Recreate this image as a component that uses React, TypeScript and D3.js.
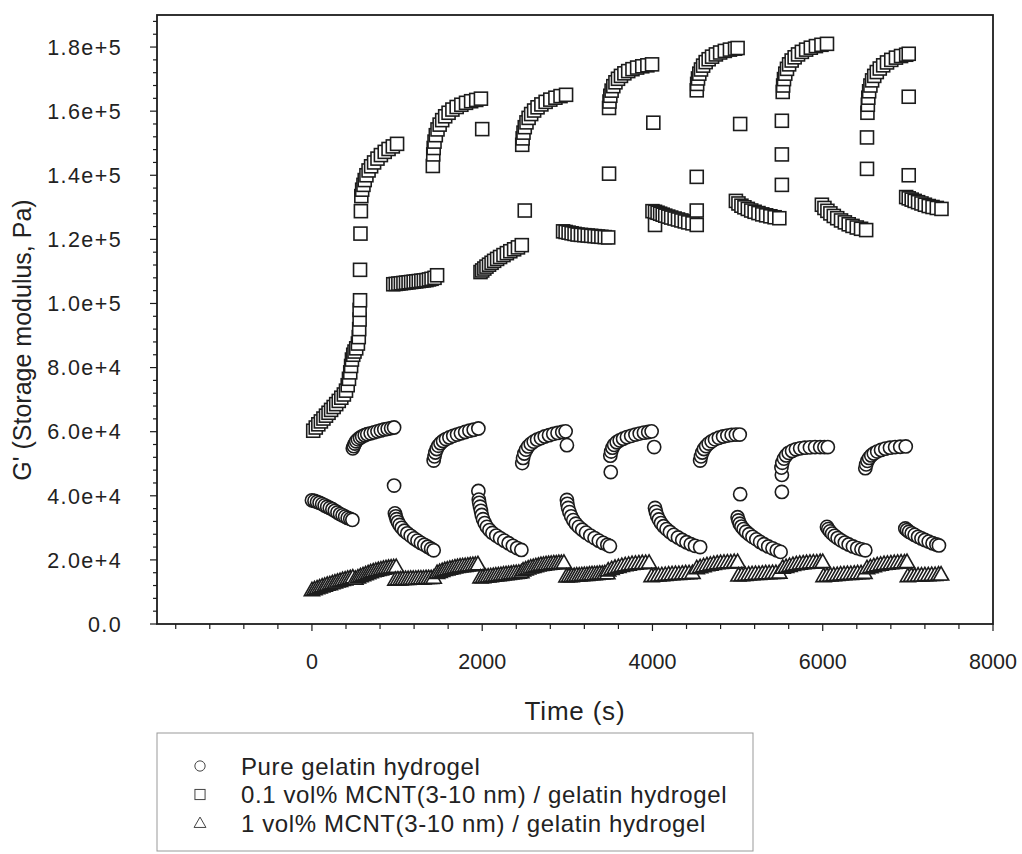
import React from 'react';
import * as d3 from 'd3';

const W = 1022;
const H = 854;
const frame = { left: 157, right: 993, top: 15, bottom: 624 };
const FONT = '"Liberation Sans", Arial, Helvetica, sans-serif';

// [time (s), G' (kPa)]
const pureGelatin: [number, number][] = [
  [0,38.6],[30,38.4],[60,38.1],[90,37.8],[120,37.4],[150,37.0],[180,36.6],[210,36.2],[240,35.8],[270,35.3],[300,34.8],[330,34.3],[360,33.9],[390,33.5],[420,33.1],[450,32.8],[475,32.5],
  [480,54.8],[490,55.5],[505,56.3],[520,57.0],[540,57.6],[565,58.1],[590,58.5],[620,58.9],[650,59.2],[690,59.5],[730,59.8],[770,60.1],[810,60.4],[850,60.7],[890,60.9],[930,61.1],[965,61.3],
  [965,43.2],
  [975,34.5],[985,33.6],[995,32.7],[1010,31.8],[1030,30.9],[1055,30.0],[1085,29.1],[1120,28.3],[1160,27.5],[1200,26.7],[1240,26.0],[1280,25.3],[1320,24.7],[1360,24.1],[1400,23.5],[1430,23.0],
  [1430,51.0],[1440,52.3],[1450,53.5],[1465,54.6],[1485,55.6],[1510,56.4],[1540,57.1],[1575,57.7],[1615,58.2],[1660,58.7],[1705,59.1],[1750,59.5],[1800,59.9],[1850,60.3],[1900,60.6],[1955,61.0],
  [1955,41.5],[1960,38.8],[1965,37.8],[1975,36.6],[1985,35.3],[1995,34.0],[2010,32.7],[2030,31.5],[2055,30.3],[2085,29.3],[2120,28.4],[2165,27.6],[2210,26.8],[2260,26.0],[2310,25.2],[2360,24.4],[2410,23.7],[2460,23.1],
  [2470,50.2],[2480,51.8],[2495,53.2],[2515,54.4],[2540,55.4],[2570,56.2],[2605,56.9],[2645,57.5],[2690,58.0],[2735,58.5],[2785,58.9],[2835,59.3],[2885,59.6],[2940,59.9],[2980,60.1],[2995,55.8],
  [2995,38.7],[3000,37.5],[3010,36.2],[3025,34.9],[3045,33.6],[3070,32.4],[3100,31.3],[3135,30.3],[3175,29.4],[3220,28.5],[3270,27.6],[3320,26.8],[3370,26.0],[3420,25.3],[3470,24.7],[3500,24.3],
  [3510,47.4],[3505,52.5],[3515,53.8],[3530,55.0],[3550,55.9],[3580,56.7],[3615,57.3],[3655,57.8],[3700,58.3],[3750,58.7],[3800,59.1],[3850,59.4],[3900,59.7],[3950,59.9],[3990,60.1],[4020,55.2],
  [4030,36.2],[4040,35.0],[4055,33.8],[4075,32.6],[4100,31.5],[4130,30.5],[4165,29.6],[4205,28.7],[4250,27.8],[4300,27.0],[4350,26.2],[4400,25.5],[4450,24.9],[4500,24.4],[4560,24.0],
  [4560,51.0],[4570,52.3],[4585,53.5],[4605,54.6],[4630,55.5],[4660,56.3],[4695,57.0],[4735,57.6],[4780,58.1],[4830,58.5],[4880,58.8],[4930,59.0],[4980,59.1],[5025,59.1],
  [5030,40.5],
  [5000,33.3],[5010,32.3],[5025,31.3],[5045,30.4],[5070,29.6],[5100,28.8],[5135,28.0],[5175,27.2],[5220,26.4],[5265,25.6],[5310,24.9],[5360,24.2],[5410,23.6],[5460,23.0],[5505,22.5],
  [5520,41.2],[5520,46.5],[5515,48.8],[5525,50.3],[5545,51.6],[5570,52.6],[5600,53.4],[5640,54.0],[5685,54.5],[5735,54.8],[5790,55.0],[5850,55.1],[5910,55.2],[5970,55.2],[6020,55.2],[6060,55.2],
  [6050,30.3],[6065,29.6],[6085,28.9],[6110,28.2],[6140,27.5],[6175,26.8],[6215,26.1],[6260,25.4],[6305,24.8],[6355,24.2],[6405,23.7],[6455,23.3],[6500,23.0],
  [6500,48.6],[6510,49.8],[6525,50.9],[6545,51.8],[6570,52.6],[6600,53.2],[6640,53.8],[6685,54.3],[6735,54.7],[6790,55.0],[6850,55.2],[6910,55.3],[6975,55.4],
  [6970,29.8],[6990,29.3],[7015,28.8],[7045,28.3],[7080,27.8],[7120,27.2],[7160,26.7],[7200,26.2],[7245,25.7],[7290,25.2],[7335,24.8],[7365,24.5],
];

const mcnt01: [number, number][] = [
  [15,60.3],[45,61.3],[75,62.3],[105,63.2],[135,64.1],[165,65.0],[195,65.9],[225,66.8],[255,67.7],[285,68.6],[315,69.6],[345,70.6],[375,71.6],[400,72.8],[420,74.5],[435,76.5],[450,78.5],[460,80.5],[470,82.5],[485,84.0],[500,85.0],[520,86.0],[540,87.5],[550,89.5],[555,92.0],[560,95.0],[560,98.0],[565,101.0],[565,110.5],[570,121.8],[575,128.8],[580,133.5],
  [590,135.5],[605,137.0],[620,138.5],[640,140.0],[665,141.5],[695,142.8],[730,144.0],[770,145.2],[810,146.3],[855,147.3],[900,148.2],[950,149.0],[1000,149.8],
  [955,106.0],[985,106.1],[1015,106.2],[1045,106.3],[1075,106.4],[1105,106.5],[1135,106.6],[1165,106.7],[1195,106.8],[1225,106.9],[1255,107.0],[1285,107.1],[1315,107.2],[1345,107.3],[1375,107.5],[1405,107.7],[1440,108.0],[1470,108.8],
  [1420,142.9],
  [1425,146.5],[1430,148.5],[1440,150.5],[1455,152.5],[1475,154.3],[1500,155.8],[1530,157.2],[1565,158.4],[1605,159.5],[1650,160.5],[1700,161.3],[1755,162.0],[1810,162.6],[1870,163.1],[1930,163.5],[1985,163.9],
  [2000,154.4],
  [1980,109.8],[2000,110.3],[2025,110.9],[2050,111.5],[2080,112.1],[2110,112.7],[2140,113.3],[2175,113.9],[2210,114.5],[2250,115.1],[2290,115.7],[2330,116.3],[2375,116.9],[2420,117.5],[2465,118.2],
  [2500,129.0],
  [2470,149.5],[2475,151.5],[2485,153.3],[2500,155.0],[2520,156.5],[2545,157.9],[2575,159.1],[2610,160.2],[2650,161.2],[2695,162.1],[2745,162.9],[2800,163.6],[2860,164.2],[2920,164.7],[2985,165.1],
  [2950,122.5],[2980,122.3],[3015,122.1],[3050,121.9],[3085,121.7],[3120,121.5],[3160,121.4],[3200,121.3],[3240,121.2],[3280,121.1],[3320,121.0],[3360,120.9],[3400,120.8],[3440,120.7],[3480,120.6],
  [3490,140.5],
  [3490,161.0],[3495,163.0],[3505,164.8],[3520,166.4],[3540,167.8],[3565,169.0],[3595,170.1],[3630,171.0],[3670,171.8],[3715,172.5],[3765,173.1],[3820,173.6],[3880,174.0],[3940,174.3],[3995,174.6],
  [4010,156.4],
  [4000,128.8],[4030,124.5],[4030,128.6],[4060,128.3],[4090,128.0],[4120,127.7],[4150,127.4],[4185,127.1],[4220,126.8],[4260,126.5],[4300,126.2],[4340,125.9],[4380,125.6],[4420,125.3],[4470,125.0],[4520,124.5],[4520,129.0],
  [4520,139.5],
  [4520,166.5],[4525,168.5],[4535,170.2],[4550,171.7],[4570,173.0],[4595,174.2],[4625,175.3],[4660,176.2],[4700,177.0],[4745,177.7],[4795,178.3],[4850,178.8],[4910,179.2],[4970,179.5],[5000,179.7],
  [5030,156.0],
  [4980,132.0],[5010,131.2],[5045,130.5],[5080,130.0],[5120,129.5],[5160,129.0],[5200,128.6],[5245,128.2],[5290,127.8],[5335,127.5],[5385,127.2],[5435,126.9],[5490,126.6],
  [5520,137.0],[5520,146.5],[5520,157.0],
  [5530,166.0],[5535,168.0],[5545,170.0],[5560,171.7],[5580,173.2],[5605,174.6],[5635,175.8],[5670,176.8],[5710,177.7],[5755,178.5],[5805,179.2],[5860,179.8],[5920,180.3],[5985,180.7],[6050,181.0],
  [5990,130.8],[6020,129.8],[6055,128.9],[6090,128.1],[6130,127.3],[6170,126.6],[6215,125.9],[6260,125.3],[6305,124.7],[6350,124.2],[6400,123.7],[6450,123.3],[6510,122.9],
  [6520,142.0],[6520,151.8],
  [6525,159.5],[6530,162.0],[6535,164.2],[6545,166.2],[6560,168.0],[6580,169.6],[6605,171.0],[6635,172.2],[6670,173.3],[6710,174.3],[6755,175.2],[6805,176.0],[6860,176.7],[6920,177.2],[6980,177.6],[7010,177.9],
  [7010,164.5],[7010,140.0],
  [6980,133.2],[7010,132.8],[7045,132.4],[7080,132.0],[7120,131.6],[7160,131.2],[7200,130.8],[7245,130.4],[7290,130.1],[7340,129.8],[7395,129.5],
];

const mcnt1: [number, number][] = [
  [0,10.6],[30,10.9],[60,11.2],[90,11.5],[120,11.8],[150,12.0],[180,12.3],[210,12.5],[240,12.8],[270,13.0],[300,13.3],[330,13.5],[360,13.8],[390,14.0],[420,14.2],[450,14.4],[480,14.6],
  [510,14.2],[540,14.6],[570,15.0],[600,15.3],[630,15.6],[660,15.9],[690,16.2],[720,16.5],[750,16.7],[780,16.9],[810,17.1],[840,17.3],[870,17.5],[900,17.6],[930,17.7],[960,17.8],[990,17.9],
  [980,13.9],[1010,14.0],[1040,14.0],[1070,14.1],[1100,14.1],[1130,14.1],[1160,14.2],[1190,14.2],[1220,14.2],[1250,14.3],[1280,14.3],[1310,14.3],[1340,14.4],[1370,14.4],[1400,14.4],[1430,14.5],
  [1470,16.0],[1500,16.3],[1530,16.6],[1560,16.9],[1590,17.1],[1620,17.3],[1650,17.5],[1680,17.7],[1710,17.9],[1740,18.0],[1770,18.1],[1800,18.2],[1830,18.3],[1860,18.4],[1890,18.5],[1920,18.6],[1950,18.7],
  [1980,14.6],[2010,14.7],[2040,14.8],[2070,14.9],[2100,15.0],[2130,15.1],[2160,15.2],[2190,15.3],[2220,15.4],[2250,15.5],[2280,15.6],[2310,15.7],[2340,15.8],[2370,15.9],[2400,16.0],[2430,16.1],[2460,16.2],
  [2480,16.8],[2510,17.1],[2540,17.4],[2570,17.7],[2600,17.9],[2630,18.1],[2660,18.3],[2690,18.5],[2720,18.6],[2750,18.7],[2780,18.8],[2810,18.9],[2840,19.0],[2870,19.0],[2900,19.1],[2930,19.1],[2960,19.2],
  [2990,14.9],[3020,15.0],[3050,15.0],[3080,15.1],[3110,15.2],[3140,15.2],[3170,15.3],[3200,15.4],[3230,15.4],[3260,15.5],[3290,15.6],[3320,15.6],[3350,15.7],[3380,15.8],[3410,15.8],[3440,15.9],[3470,15.9],
  [3480,16.8],[3520,17.2],[3560,17.6],[3600,17.9],[3640,18.2],[3680,18.4],[3720,18.6],[3760,18.8],[3800,18.9],[3840,19.0],[3880,19.1],[3920,19.1],[3960,19.2],
  [3990,15.0],[4030,15.1],[4070,15.2],[4110,15.3],[4150,15.4],[4190,15.5],[4230,15.6],[4270,15.7],[4310,15.7],[4350,15.8],[4390,15.9],[4430,15.9],[4470,16.0],
  [4520,17.5],[4560,17.8],[4600,18.1],[4640,18.4],[4680,18.6],[4720,18.8],[4760,19.0],[4800,19.1],[4840,19.2],[4880,19.3],[4920,19.3],[4960,19.4],[5000,19.4],
  [5010,15.2],[5050,15.3],[5090,15.4],[5130,15.5],[5170,15.6],[5210,15.7],[5250,15.7],[5290,15.8],[5330,15.9],[5370,15.9],[5410,16.0],[5450,16.0],[5490,16.1],
  [5530,17.6],[5570,17.9],[5610,18.2],[5650,18.5],[5690,18.7],[5730,18.9],[5770,19.0],[5810,19.1],[5850,19.2],[5890,19.3],[5930,19.3],[5970,19.4],[6000,19.4],
  [6010,15.0],[6050,15.1],[6090,15.2],[6130,15.3],[6170,15.4],[6210,15.5],[6250,15.6],[6290,15.7],[6330,15.7],[6370,15.8],[6410,15.9],[6450,15.9],[6490,16.0],
  [6520,17.5],[6560,17.8],[6600,18.1],[6640,18.4],[6680,18.6],[6720,18.8],[6760,18.9],[6800,19.0],[6840,19.1],[6880,19.2],[6920,19.3],[6960,19.3],[6990,19.4],
  [7000,15.0],[7040,15.1],[7080,15.1],[7120,15.2],[7160,15.2],[7200,15.3],[7240,15.3],[7280,15.4],[7320,15.4],[7360,15.5],[7390,15.5],
];

const xTickValues = [0, 2000, 4000, 6000, 8000];
const yTickValues = [0, 20000, 40000, 60000, 80000, 100000, 120000, 140000, 160000, 180000];
const legendLabels = [
  'Pure gelatin hydrogel',
  '0.1 vol% MCNT(3-10 nm) / gelatin hydrogel',
  '1 vol% MCNT(3-10 nm) / gelatin hydrogel',
];

const INK = '#1c1c1c';

const Marker = ({ kind, cx, cy, s = 1, stroke = INK, sw = 1.6 }: any) => {
  if (kind === 'circle') return <circle cx={cx} cy={cy} r={6.6 * s} fill="#fff" stroke={stroke} strokeWidth={sw} />;
  if (kind === 'square') {
    const h = 6.5 * s;
    return <rect x={cx - h} y={cy - h} width={2 * h} height={2 * h} fill="#fff" stroke={stroke} strokeWidth={sw} />;
  }
  const a = 7.6 * s;
  const pts = `${cx},${cy - a} ${cx + a},${cy + a * 0.75} ${cx - a},${cy + a * 0.75}`;
  return <polygon points={pts} fill="#fff" stroke={stroke} strokeWidth={sw} strokeLinejoin="miter" />;
};

const App = () => {
  const x = d3.scaleLinear().domain([-1820, 8000]).range([frame.left, frame.right]);
  const y = d3.scaleLinear().domain([0, 190000]).range([frame.bottom, frame.top]);
  const xMinor = d3.range(-1600, 8001, 400);
  const yMinor = d3.range(0, 190001, 4000);
  const fmt = (v: number) => (v === 0 ? '0.0' : d3.format('.1e')(v));

  const series = [
    { kind: 'triangle', data: mcnt1 },
    { kind: 'circle', data: pureGelatin },
    { kind: 'square', data: mcnt01 },
  ];

  return (
    <svg width={W} height={H} style={{ position: 'absolute', left: 0, top: 0, background: '#fff' }} fontFamily={FONT}>
      <rect x={0} y={0} width={W} height={H} fill="#fff" />

      {/* data */}
      <g>
        {series.map((s) =>
          s.data.map((d, i) => (
            <Marker key={s.kind + i} kind={s.kind} cx={x(d[0])} cy={y(d[1] * 1000)} />
          ))
        )}
      </g>

      {/* frame */}
      <rect x={frame.left} y={frame.top} width={frame.right - frame.left} height={frame.bottom - frame.top}
        fill="none" stroke={INK} strokeWidth={1.8} />

      {/* x ticks */}
      {xMinor.map((v) => (
        <line key={'xm' + v} x1={x(v)} x2={x(v)} y1={frame.bottom} y2={frame.bottom + (v % 2000 === 0 ? 7 : 5)} stroke={INK} strokeWidth={1.2} />
      ))}
      {xTickValues.map((v) => (
        <text key={'xl' + v} x={x(v)} y={frame.bottom + 45} textAnchor="middle" fontSize={21.5} fill="#222">{v}</text>
      ))}

      {/* y ticks */}
      {yMinor.map((v) => (
        <line key={'ym' + v} x1={frame.left} x2={frame.left - (v % 20000 === 0 ? 7 : 4)} y1={y(v)} y2={y(v)} stroke={INK} strokeWidth={1.2} />
      ))}
      {yTickValues.map((v) => (
        <text key={'yl' + v} x={122} y={y(v)} dy="0.36em" textAnchor="end" fontSize={21.5} letterSpacing={1.4} fill="#222">{fmt(v)}</text>
      ))}

      {/* titles */}
      <text x={575} y={720} textAnchor="middle" fontSize={26} letterSpacing={0.8} fill="#222">Time (s)</text>
      <text transform="translate(31,340) rotate(-90)" textAnchor="middle" fontSize={25} fill="#222">G' (Storage modulus, Pa)</text>

      {/* legend */}
      <rect x={157} y={733} width={596} height={118} fill="#fff" stroke="#999" strokeWidth={1} />
      {legendLabels.map((lab, i) => {
        const cy = 766 + i * 28.5;
        const kind = ['circle', 'square', 'triangle'][i];
        return (
          <g key={lab}>
            <Marker kind={kind} cx={200} cy={cy} s={0.78} stroke="#444" sw={1} />
            <text x={241} y={cy} dy="0.36em" fontSize={24} letterSpacing={0.6} fill="#222">{lab}</text>
          </g>
        );
      })}
    </svg>
  );
};

export default App;
